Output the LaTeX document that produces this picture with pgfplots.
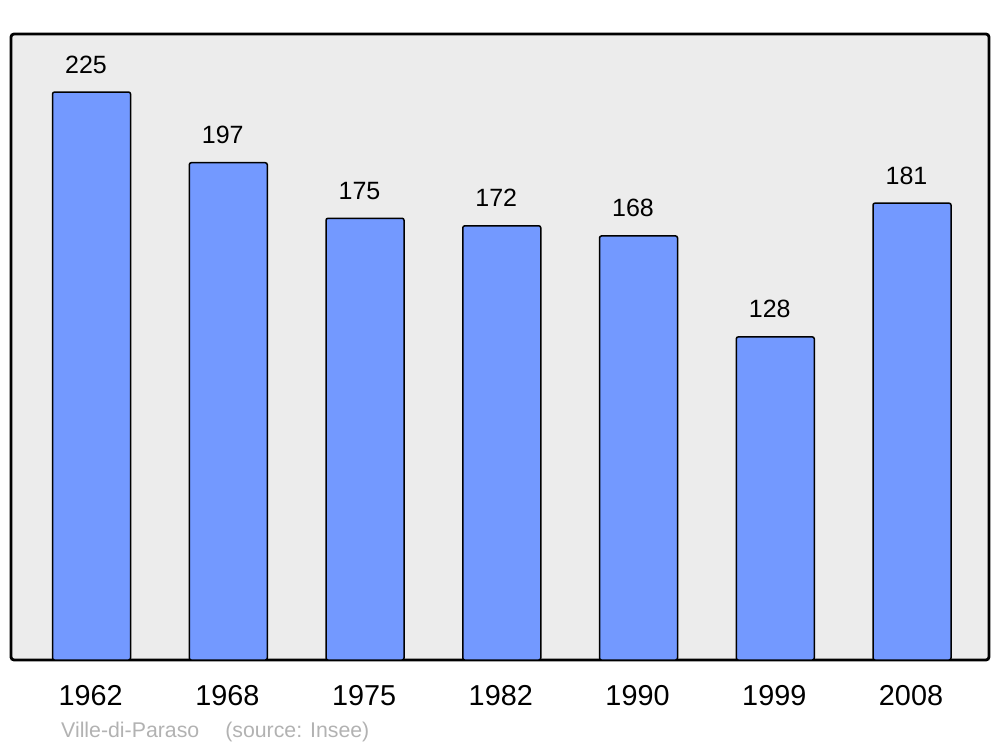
\documentclass[border=0pt]{standalone}
\usepackage{pgfplots}
\pgfplotsset{compat=1.18}
\usepackage{fontspec}
\setmainfont{Liberation Sans}
\definecolor{barblue}{RGB}{115,153,255}
\definecolor{bggray}{RGB}{236,236,236}
\definecolor{srcgray}{RGB}{178,178,178}
\begin{document}
\begin{tikzpicture}
\useasboundingbox (-11bp,-87bp) rectangle (989bp,660bp);
\begin{axis}[
  at={(0,0)}, anchor=south west,
  scale only axis,
  width=978bp, height=626bp,
  xmin=-0.589, xmax=6.563,
  ymin=0, ymax=248,
  axis background/.style={fill=bggray},
  axis line style={line width=2.8bp, rounded corners=3bp},
  ytick=\empty,
  xtick={0,1,2,3,4,5,6},
  xticklabels={1962,1968,1975,1982,1990,1999,2008},
  major tick length=0pt,
  xticklabel style={anchor=base, yshift=-45bp, xshift=-1bp, font=\fontsize{28.8bp}{32bp}\selectfont},
  /pgf/number format/assume math mode=true,
  ybar, bar width=78bp,
  nodes near coords,
  every node near coord/.append style={anchor=base, yshift=19bp, xshift=-5.5bp, font=\fontsize{25bp}{28bp}\selectfont, text=black},
  clip=false,
]
\addplot[fill=barblue, draw=black, line width=1.5bp, rounded corners=2bp] coordinates {
  (0,225) (1,197) (2,175) (3,172) (4,168) (5,128) (6,181)
};
\end{axis}
\node[anchor=base west, text=srcgray, font=\fontsize{21.3bp}{25bp}\selectfont, inner sep=0pt] at (50bp,-77bp) {Ville-di-Paraso\hspace{26bp}(source: Insee)};
\end{tikzpicture}
\end{document}
